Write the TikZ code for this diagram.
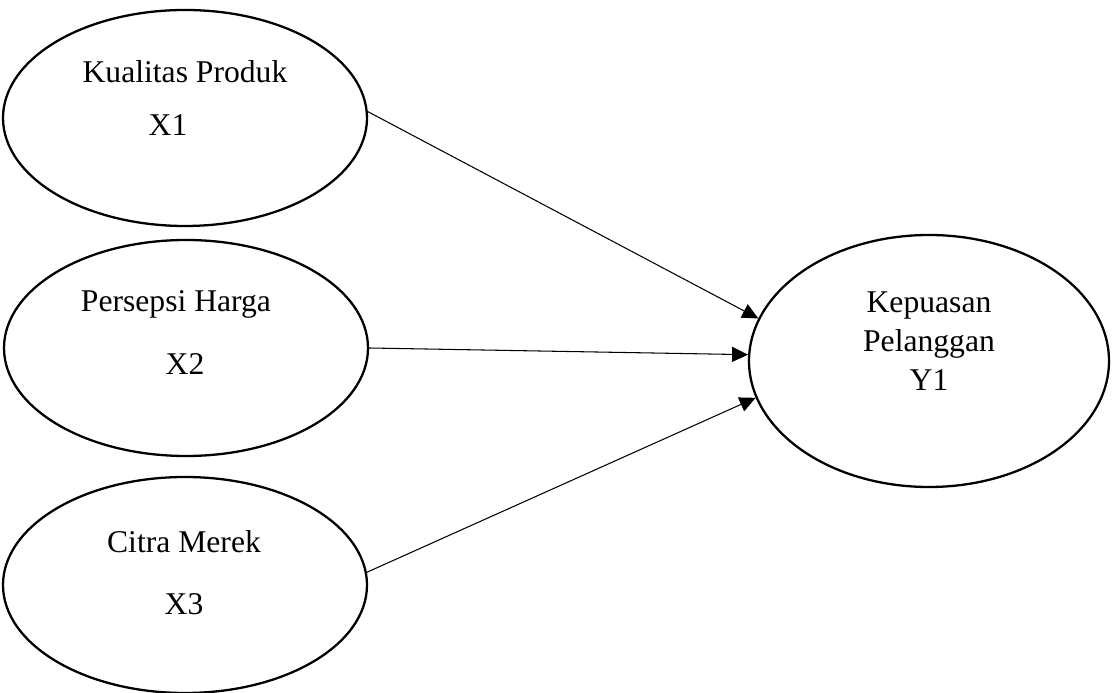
\documentclass[tikz,border=0pt]{standalone}
\usepackage{fontspec}
\setmainfont{Liberation Serif}
\usetikzlibrary{shapes.geometric, arrows.meta}
\usepackage{xcolor}
\definecolor{garis}{HTML}{000000}

\begin{document}
\begin{tikzpicture}[font=\fontsize{18}{22.2}\selectfont,
    variabel/.style={draw=garis, ellipse, line width=1.3pt, inner sep=0pt,
      minimum width=7.28cm, minimum height=4.32cm},
    panah/.style={draw=garis, line width=0.6pt, -{Triangle[length=0.32cm, width=0.30cm]}}]
    \useasboundingbox (0,0) rectangle (22.26,13.86);
    % kiri: variabel bebas
    \node[variabel] (x1) at (3.70,11.50) {};
    \node[variabel] (x2) at (3.72,6.90) {};
    \node[variabel] (x3) at (3.70,2.16) {};
    \node[anchor=base] (n1) at (3.70,12.20) {Kualitas Produk};
    \node[anchor=base] (k1) at (3.36,11.14) {X1};
    \node[anchor=base] (n2) at (3.52,7.62) {Persepsi Harga};
    \node[anchor=base] (k2) at (3.70,6.36) {X2};
    \node[anchor=base] (n3) at (3.68,2.80) {Citra Merek};
    \node[anchor=base] (k3) at (3.68,1.56) {X3};
    % kanan: variabel terikat
    \node[variabel, minimum width=7.20cm, minimum height=5.04cm] (y) at (18.58,6.64) {};
    \node[align=center] (ny) at (18.58,7.04) {Kepuasan\\Pelanggan\\Y1};
    % panah pengaruh
    \draw[panah] (x1.2) -- (y.166);
    \draw[panah] (x2.east) -- (y.178);
    \draw[panah] (x3.4) -- (y.192);
\end{tikzpicture}
\end{document}
